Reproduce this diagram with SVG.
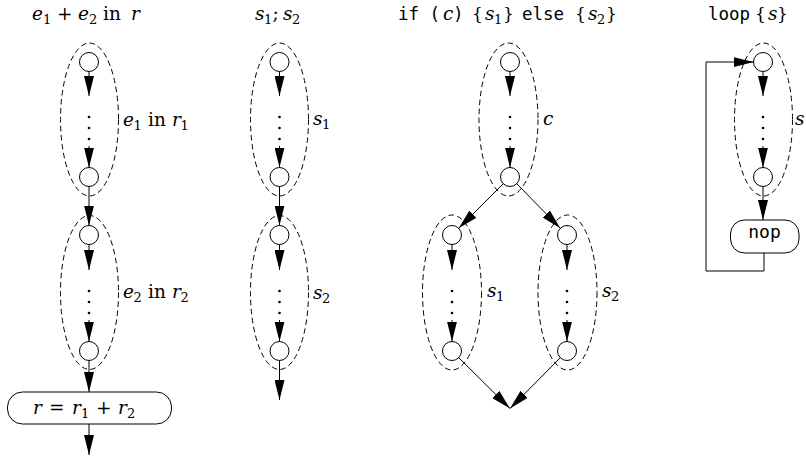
<svg xmlns="http://www.w3.org/2000/svg" width="806" height="470" viewBox="0 0 806 470">
<defs>
<style>
text{font-size:18.5px;fill:#000;font-family:'DejaVu Serif',serif}
.i{font-style:italic}
.m{font-family:'DejaVu Sans Mono',monospace;font-size:17.5px}
.sub{font-size:13px}
.br{font-size:17px}
.n{fill:#fff;stroke:#000;stroke-width:1}
.g{fill:none;stroke:#000;stroke-width:1;stroke-dasharray:5.5,3.5}
.b{fill:#fff;stroke:#000;stroke-width:1}
.c{fill:none;stroke:#000;stroke-width:1}
.a{marker-end:url(#ah)}
.d{fill:#000}
</style>
<marker id="ah" markerUnits="userSpaceOnUse" markerWidth="20" markerHeight="10" refX="20" refY="5" orient="auto"><path d="M0,0 L20,5 L0,10 Z" fill="#000"/></marker>
</defs>
<rect width="806" height="470" fill="#fff"/>

<g id="titles">
<text y="20"><tspan class="i" x="32">e</tspan><tspan class="sub" x="43" dy="4">1</tspan><tspan x="57" dy="-4">+</tspan><tspan class="i" x="78">e</tspan><tspan class="sub" x="89" dy="4">2</tspan><tspan x="103" dy="-4">in</tspan><tspan class="i" x="131">r</tspan></text>
<text y="20"><tspan class="i" x="255">s</tspan><tspan class="sub" x="264" dy="4">1</tspan><tspan x="272.5" dy="-4">;</tspan><tspan class="i" x="283">s</tspan><tspan class="sub" x="292" dy="4">2</tspan></text>
<text y="20"><tspan class="m" x="398">if (</tspan><tspan class="i" x="443">c</tspan><tspan class="m" x="453">)</tspan><tspan class="br" x="472">{</tspan><tspan class="i" x="485">s</tspan><tspan class="sub" x="494" dy="4">1</tspan><tspan class="br" x="503" dy="-4">}</tspan><tspan class="m" x="522">else</tspan><tspan class="br" x="575">{</tspan><tspan class="i" x="588">s</tspan><tspan class="sub" x="597" dy="4">2</tspan><tspan class="br" x="606" dy="-4">}</tspan></text>
<text y="20"><tspan class="m" x="708">loop</tspan><tspan class="br" x="755">{</tspan><tspan class="i" x="768">s</tspan><tspan class="br" x="777">}</tspan></text>
</g>

<!-- Column 1 -->
<g id="e1-group">
<ellipse class="g" cx="89.5" cy="119.5" rx="29" ry="76.5"/>
<circle class="n" cx="89" cy="62" r="9.5"/>
<circle class="n" cx="89" cy="177" r="9.5"/>
<text y="126"><tspan class="i" x="123">e</tspan><tspan class="sub" x="133.5" dy="4">1</tspan><tspan x="148" dy="-4">in</tspan><tspan class="i" x="172">r</tspan><tspan class="sub" x="180.5" dy="4">1</tspan></text>
</g>
<g id="e2-group">
<ellipse class="g" cx="89.5" cy="292.5" rx="29" ry="77"/>
<circle class="n" cx="89" cy="235" r="9.5"/>
<circle class="n" cx="89" cy="351" r="9.5"/>
<text y="298"><tspan class="i" x="123">e</tspan><tspan class="sub" x="133.5" dy="4">2</tspan><tspan x="148" dy="-4">in</tspan><tspan class="i" x="172">r</tspan><tspan class="sub" x="180.5" dy="4">2</tspan></text>
</g>
<g id="sum-box">
<rect class="b" x="7.5" y="392" width="164" height="32" rx="15"/>
<text y="414"><tspan class="i" x="33">r</tspan><tspan x="49">=</tspan><tspan class="i" x="72">r</tspan><tspan class="sub" x="81" dy="4">1</tspan><tspan x="96" dy="-4">+</tspan><tspan class="i" x="118">r</tspan><tspan class="sub" x="127" dy="4">2</tspan></text>
</g>

<!-- Column 2 -->
<g id="s1-group">
<ellipse class="g" cx="279.5" cy="119.5" rx="29" ry="76.5"/>
<circle class="n" cx="279.5" cy="62" r="9.5"/>
<circle class="n" cx="279.5" cy="177" r="9.5"/>
<text y="125"><tspan class="i" x="313">s</tspan><tspan class="sub" x="322" dy="4">1</tspan></text>
</g>
<g id="s2-group">
<ellipse class="g" cx="279.5" cy="292.5" rx="29" ry="77"/>
<circle class="n" cx="279.5" cy="235" r="9.5"/>
<circle class="n" cx="279.5" cy="351" r="9.5"/>
<text y="299"><tspan class="i" x="313">s</tspan><tspan class="sub" x="322" dy="4">2</tspan></text>
</g>

<!-- Column 3 -->
<g id="c-group">
<ellipse class="g" cx="508.5" cy="119.5" rx="29.5" ry="76.5"/>
<circle class="n" cx="510" cy="62" r="9.5"/>
<circle class="n" cx="510" cy="177" r="9.5"/>
<text class="i" x="543" y="125">c</text>
</g>
<g id="if-s1-group">
<ellipse class="g" cx="452" cy="292.5" rx="29.5" ry="77.5"/>
<circle class="n" cx="452" cy="235" r="9.5"/>
<circle class="n" cx="452" cy="351" r="9.5"/>
<text y="297"><tspan class="i" x="487">s</tspan><tspan class="sub" x="496" dy="4">1</tspan></text>
</g>
<g id="if-s2-group">
<ellipse class="g" cx="567.5" cy="292.5" rx="29.5" ry="77.5"/>
<circle class="n" cx="567" cy="235" r="9.5"/>
<circle class="n" cx="567" cy="351" r="9.5"/>
<text y="297"><tspan class="i" x="602">s</tspan><tspan class="sub" x="611" dy="4">2</tspan></text>
</g>

<!-- Column 4 -->
<g id="loop-s-group">
<ellipse class="g" cx="763.5" cy="119.5" rx="29" ry="76.5"/>
<circle class="n" cx="763" cy="62" r="9.5"/>
<circle class="n" cx="763" cy="177" r="9.5"/>
<text class="i" x="795" y="125">s</text>
</g>
<g id="nop-box">
<rect class="b" x="730.5" y="220" width="68.5" height="33" rx="14"/>
<text class="m" x="764.5" y="238" text-anchor="middle" style="font-size:18px">nop</text>
</g>

<g id="connectors">
<line class="c a" x1="89" y1="71.5" x2="89" y2="96"/>
<circle class="d" cx="89" cy="117" r="1.3"/><circle class="d" cx="89" cy="128" r="1.3"/><circle class="d" cx="89" cy="139" r="1.3"/>
<line class="c a" x1="89" y1="146" x2="89" y2="167.5"/>
<line class="c a" x1="89" y1="186.5" x2="89" y2="225.5"/>
<line class="c a" x1="89" y1="244.5" x2="89" y2="270"/>
<circle class="d" cx="89" cy="291" r="1.3"/><circle class="d" cx="89" cy="302" r="1.3"/><circle class="d" cx="89" cy="313" r="1.3"/>
<line class="c a" x1="89" y1="320" x2="89" y2="341.5"/>
<line class="c a" x1="89" y1="360.5" x2="89" y2="392"/>
<line class="c a" x1="89" y1="424" x2="89" y2="455"/>
<line class="c a" x1="279.5" y1="71.5" x2="279.5" y2="96"/>
<circle class="d" cx="279.5" cy="117" r="1.3"/><circle class="d" cx="279.5" cy="128" r="1.3"/><circle class="d" cx="279.5" cy="139" r="1.3"/>
<line class="c a" x1="279.5" y1="146" x2="279.5" y2="167.5"/>
<line class="c a" x1="279.5" y1="186.5" x2="279.5" y2="225.5"/>
<line class="c a" x1="279.5" y1="244.5" x2="279.5" y2="270"/>
<circle class="d" cx="279.5" cy="291" r="1.3"/><circle class="d" cx="279.5" cy="302" r="1.3"/><circle class="d" cx="279.5" cy="313" r="1.3"/>
<line class="c a" x1="279.5" y1="320" x2="279.5" y2="341.5"/>
<line class="c a" x1="279.5" y1="360.5" x2="279.5" y2="400"/>
<line class="c a" x1="510" y1="71.5" x2="510" y2="96"/>
<circle class="d" cx="510" cy="117" r="1.3"/><circle class="d" cx="510" cy="128" r="1.3"/><circle class="d" cx="510" cy="139" r="1.3"/>
<line class="c a" x1="510" y1="146" x2="510" y2="167.5"/>
<line class="c a" x1="503.3" y1="183.7" x2="458.7" y2="228.3"/>
<line class="c a" x1="516.7" y1="183.7" x2="560.3" y2="228.3"/>
<line class="c a" x1="452" y1="244.5" x2="452" y2="270"/>
<circle class="d" cx="452" cy="291" r="1.3"/><circle class="d" cx="452" cy="302" r="1.3"/><circle class="d" cx="452" cy="313" r="1.3"/>
<line class="c a" x1="452" y1="320" x2="452" y2="341.5"/>
<line class="c a" x1="567" y1="244.5" x2="567" y2="270"/>
<circle class="d" cx="567" cy="291" r="1.3"/><circle class="d" cx="567" cy="302" r="1.3"/><circle class="d" cx="567" cy="313" r="1.3"/>
<line class="c a" x1="567" y1="320" x2="567" y2="341.5"/>
<line class="c a" x1="458.7" y1="357.7" x2="510" y2="408.5"/>
<line class="c a" x1="560.3" y1="357.7" x2="510" y2="408.5"/>
<line class="c a" x1="763" y1="71.5" x2="763" y2="96"/>
<circle class="d" cx="763" cy="117" r="1.3"/><circle class="d" cx="763" cy="128" r="1.3"/><circle class="d" cx="763" cy="139" r="1.3"/>
<line class="c a" x1="763" y1="146" x2="763" y2="167.5"/>
<line class="c a" x1="763" y1="186.5" x2="763" y2="220"/>
<polyline class="c a" points="764,253 764,271 706,271 706,62 753.5,62"/>
</g>
</svg>
